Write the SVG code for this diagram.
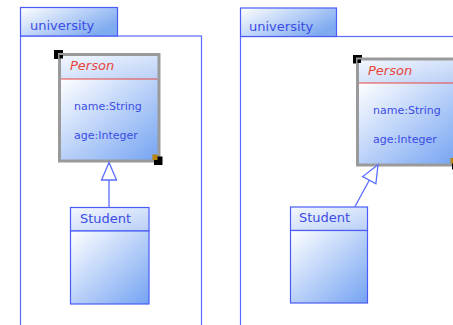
<svg xmlns="http://www.w3.org/2000/svg" width="453" height="325" viewBox="0 0 453 325">
<defs>
<linearGradient id="g" x1="0" y1="0" x2="1" y2="1">
<stop offset="0" stop-color="#ffffff"/>
<stop offset="1" stop-color="#74a3f2"/>
</linearGradient>
<linearGradient id="gh" x1="0" y1="0" x2="1" y2="1">
<stop offset="0" stop-color="#f4f8ff"/>
<stop offset="1" stop-color="#b9cff6"/>
</linearGradient>
<linearGradient id="gt" x1="0" y1="0" x2="1" y2="0.6">
<stop offset="0" stop-color="#ffffff"/>
<stop offset="1" stop-color="#7eaaf0"/>
</linearGradient>
</defs>
<style>
.pk{fill:#fff;stroke:#5a6cff;stroke-width:1.2}
.tab{fill:url(#gt);stroke:#4a5cf5;stroke-width:1.2}
.cb{stroke:#4a5cf5;stroke-width:1.2}
.gray{fill:none;stroke:#9a9a9a;stroke-width:3}
.sep{stroke:#e8453c;stroke-width:1}
.bsep{stroke:#4a5cf5;stroke-width:1.2}
.t{font-family:"DejaVu Sans",sans-serif;fill:#3b4ce4}
.n13{font-size:13px}
.n11{font-size:11px}
.red{font-family:"DejaVu Sans",sans-serif;font-size:13px;font-style:italic;fill:#e8453c}
.conn{stroke:#5a6cff;stroke-width:1.3;fill:none}
.tri{fill:#fff;stroke:#5a6cff;stroke-width:1.3}
</style>

<g id="pkg-left">
<rect class="pk" x="20.5" y="36" width="181" height="300"/>
<rect class="tab" x="20.5" y="7.5" width="97" height="28.5"/>
<text class="t n13" x="30" y="30">university</text>
</g>

<g id="pkg-right">
<rect class="pk" x="240.5" y="36.5" width="300" height="300"/>
<rect class="tab" x="240.5" y="8" width="96" height="28.5"/>
<text class="t n13" x="249" y="30.5">university</text>
</g>

<g id="person-left">
<rect x="54" y="50" width="9" height="9" fill="#000"/>
<rect x="59.5" y="54.5" width="99.5" height="24.5" fill="url(#gh)"/>
<rect x="59.5" y="79" width="99.5" height="82" fill="url(#g)"/>
<rect class="gray" x="59.5" y="54.5" width="99.5" height="106.5"/>
<line class="sep" x1="61" y1="79" x2="157.5" y2="79"/>
<rect x="59.5" y="55" width="3.5" height="3.5" fill="#000"/>
<text class="red" x="70" y="70">Person</text>
<text class="t n11" x="74" y="110">name:String</text>
<text class="t n11" x="74" y="138.5">age:Integer</text>
<rect x="154" y="156.5" width="8.5" height="8.5" fill="#000"/>
<rect x="152.5" y="154.5" width="5" height="5.5" fill="#b8860b"/>
</g>

<g id="student-left">
<rect class="cb" x="70.5" y="207.5" width="78.5" height="23.5" fill="url(#gh)"/>
<rect class="cb" x="70.5" y="231" width="78.5" height="73" fill="url(#g)"/>
<text class="t n13" x="80" y="222.5">Student</text>
</g>

<g id="person-right">
<rect x="353" y="55" width="9" height="8.5" fill="#000"/>
<rect x="357.5" y="59" width="99.5" height="24" fill="url(#gh)"/>
<rect x="357.5" y="83" width="99.5" height="82" fill="url(#g)"/>
<rect class="gray" x="357.5" y="59" width="99.5" height="106"/>
<line class="sep" x1="359" y1="83" x2="455" y2="83"/>
<rect x="357.5" y="59.5" width="3.5" height="3.5" fill="#000"/>
<text class="red" x="368" y="74.5">Person</text>
<text class="t n11" x="373" y="114">name:String</text>
<text class="t n11" x="373" y="142.5">age:Integer</text>
<rect x="452" y="161" width="8.5" height="8.5" fill="#000"/>
<rect x="450.5" y="158" width="5" height="5.5" fill="#b8860b"/>
</g>

<g id="student-right">
<rect class="cb" x="290.5" y="207" width="77" height="23.5" fill="url(#gh)"/>
<rect class="cb" x="290.5" y="230.5" width="77" height="72.5" fill="url(#g)"/>
<text class="t n13" x="299" y="222">Student</text>
</g>

<g id="connectors">
<line class="conn" x1="109" y1="180" x2="109" y2="207.5"/>
<polygon class="tri" points="109,162.5 101.5,180 116.5,180"/>
<line class="conn" x1="369.3" y1="180.2" x2="355" y2="206.5"/>
<polygon class="tri" points="378,164.8 362.7,176.6 375.9,183.8"/>
</g>
</svg>
